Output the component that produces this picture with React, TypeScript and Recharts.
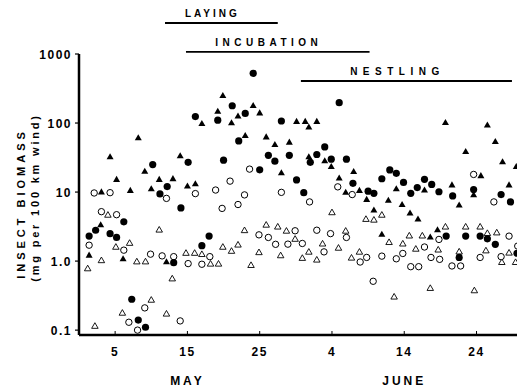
import { ScatterChart, Scatter, XAxis, YAxis, ReferenceLine } from 'recharts'

// x is the day count from 1 May (day 35 = 4 June)
const xTicks = [5, 15, 25, 35, 45, 55]
const xTickLabels = ['5', '15', '25', '4', '14', '24']
const monthTicks = [15, 45]
const monthNames = ['MAY', 'JUNE']
const yTicks = [0.1, 1, 10, 100, 1000]
const yTickLabels = ['0.1', '1.0', '10', '100', '1000']

const filledCircleDays = [1.4, 2.3, 4.3, 5.2, 6.2, 7.3, 8.2, 9.2, 10.2, 11.2, 12.2, 13.1, 14.1, 15.1, 16.1, 17.0, 18.0, 19.2, 20.0, 21.2, 22.1, 23.0, 24.1, 25.0, 26.2, 27.1, 28.0, 29.1, 30.1, 31.1, 32.0, 32.9, 34.0, 34.9, 36.0, 37.0, 37.9, 40.0, 40.8, 41.9, 43.0, 43.9, 44.9, 45.9, 46.8, 47.8, 48.8, 49.8, 50.8, 51.7, 52.6, 53.5, 54.6, 55.5, 56.5, 57.6, 58.4, 59.7, 60.6]
const filledCircleValues = [2.3, 2.8, 2.5, 2.2, 3.7, 0.28, 0.14, 0.11, 25, 9.4, 12, 0.95, 5.9, 27, 124, 1.67, 2.3, 110, 29, 178, 55, 138, 525, 21, 34, 28, 107, 34, 15, 9.8, 27, 35, 45, 30, 197, 30, 13.4, 10.3, 9.6, 15.6, 20.9, 18.7, 13.8, 9.6, 11.6, 15.3, 12.9, 10.1, 2.3, 8.8, 1.13, 2.3, 10.9, 2.3, 2.1, 1.75, 9.2, 7.2, 1.3]

const filledTriangleDays = [1.4, 3.0, 3.1, 4.3, 5.2, 6.1, 7.1, 8.2, 9.1, 10.0, 11.1, 12.1, 13.0, 14.0, 15.0, 16.1, 17.0, 19.2, 19.9, 21.1, 22.0, 23.0, 24.1, 25.0, 25.9, 27.1, 28.0, 29.1, 30.1, 31.3, 31.8, 31.8, 32.9, 34.0, 34.9, 36.0, 36.9, 38.0, 38.8, 39.8, 40.8, 41.9, 42.8, 43.9, 44.7, 45.8, 46.9, 47.8, 48.6, 49.6, 50.7, 51.6, 52.6, 53.5, 54.6, 55.6, 56.5, 57.6, 58.6, 59.5, 60.5]
const filledTriangleValues = [1.2, 3.3, 9.9, 32, 15, 1.06, 10.4, 60, 19.7, 11, 15, 0.96, 15.4, 33, 12, 13, 97, 146, 246, 99, 124, 65, 176, 138, 62, 48, 18.7, 52, 104, 104, 86, 32, 104, 28, 23, 15.7, 9.8, 19.5, 10.4, 7.7, 5.4, 2.4, 7.5, 11, 6.5, 4.9, 4.0, 10.5, 2.2, 2.8, 100, 12.5, 6.4, 38, 9, 17, 92, 53, 27, 12.5, 23]

const openCircleDays = [1.4, 2.1, 3.1, 4.3, 5.2, 6.2, 6.9, 8.1, 9.1, 9.9, 11.5, 12.1, 13.1, 14.0, 15.1, 16.1, 17.0, 18.1, 18.9, 19.8, 20.9, 22.0, 22.9, 23.6, 24.9, 26.2, 27.2, 28.0, 28.9, 29.9, 30.9, 31.9, 32.9, 33.9, 34.8, 35.8, 37.0, 37.8, 38.9, 39.8, 40.7, 41.9, 43.9, 44.8, 45.9, 47.0, 47.8, 48.7, 49.8, 49.9, 51.6, 52.8, 54.6, 55.5, 57.4, 58.4, 59.5, 60.7]
const openCircleValues = [1.7, 9.7, 5.2, 9.8, 4.7, 1.44, 0.13, 0.1, 0.21, 1.26, 1.19, 8.1, 1.16, 0.136, 0.92, 9.5, 0.9, 1.16, 10.7, 5.8, 14.4, 6.6, 9.1, 21.5, 2.4, 2.2, 1.75, 9.9, 1.76, 2.75, 1.8, 7.2, 2.8, 1.36, 2.5, 11.9, 2.2, 9.2, 0.97, 1.13, 0.51, 1.18, 1.08, 1.29, 0.83, 0.83, 1.6, 1.13, 2.06, 1.06, 0.85, 0.85, 18, 1.13, 7.2, 1.16, 2.3, 1.65]

const openTriangleDays = [1.2, 2.2, 3.1, 4.0, 5.1, 6.0, 7.0, 8.0, 9.2, 10.0, 11.1, 12.1, 12.9, 14.8, 16.0, 17.0, 18.2, 19.3, 19.9, 21.1, 22.0, 22.9, 23.8, 24.9, 25.9, 27.5, 27.9, 28.7, 29.9, 30.9, 31.8, 32.9, 33.7, 35.0, 35.9, 36.9, 37.7, 38.8, 39.7, 40.8, 41.9, 42.9, 43.6, 44.8, 45.7, 46.6, 47.5, 48.6, 49.7, 50.7, 52.6, 53.5, 54.7, 55.5, 56.3, 56.5, 57.8, 58.5, 59.5, 60.4]
const openTriangleValues = [0.77, 0.113, 1.01, 4.6, 1.58, 0.175, 1.8, 0.97, 0.97, 0.27, 2.8, 0.17, 0.55, 1.29, 1.29, 1.24, 0.9, 0.9, 1.58, 1.38, 1.7, 2.75, 0.86, 1.32, 3.3, 3.1, 1.19, 2.7, 2.06, 1.09, 1.34, 1.03, 1.76, 5.0, 1.53, 2.7, 1.1, 1.34, 4.0, 3.9, 4.6, 1.85, 0.3, 1.76, 2.3, 1.48, 2.3, 0.4, 1.44, 3.1, 1.35, 3.1, 0.37, 3.1, 1.4, 2.5, 2.55, 0.95, 1.3, 0.95]

// breeding phases drawn above the points (start day, end day, level on the y scale)
const phaseNames = ['LAYING', 'INCUBATION', 'NESTLING']
const phaseStart = [11.9, 14.8, 30.7]
const phaseEnd = [27.5, 40.2, 59.9]
const phaseLevel = [2810, 1070, 406]

const FONT = '"Liberation Sans", Arial, sans-serif'

const toPoints = (days: number[], values: number[]) => days.map((day, i) => ({ day, v: values[i] }))

const triPath = (cx: number, cy: number, s: number) => {
    const h = s * 0.866
    return `M${cx},${cy - (h * 2) / 3}L${cx + s / 2},${cy + h / 3}L${cx - s / 2},${cy + h / 3}Z`
}

const FilledCircle = (p: any) => <circle cx={p.cx} cy={p.cy} r={3.6} fill="#000" />
const OpenCircle = (p: any) => <circle cx={p.cx} cy={p.cy} r={3.2} fill="#fff" stroke="#000" strokeWidth={1} />
const FilledTriangle = (p: any) => <path d={triPath(p.cx, p.cy, 7)} fill="#000" />
const OpenTriangle = (p: any) => <path d={triPath(p.cx, p.cy, 6.5)} fill="#fff" stroke="#000" strokeWidth={0.9} />

const XTick = (props: any) => {
    const { x, y, payload } = props
    const i = xTicks.indexOf(payload.value)
    const m = monthTicks.indexOf(payload.value)
    return (
        <g>
            <line x1={x} x2={x} y1={y} y2={y - 4} stroke="#000" strokeWidth={1} />
            <text x={x} y={y + 21} textAnchor="middle" fontSize={12} fontWeight={700} letterSpacing={1.5} fontFamily={FONT} fill="#000">
                {xTickLabels[i]}
            </text>
            {m >= 0 && (
                <text x={x} y={y + 50} textAnchor="middle" fontSize={12} fontWeight={700} letterSpacing={3} fontFamily={FONT} fill="#000">
                    {monthNames[m]}
                </text>
            )}
        </g>
    )
}

const YTick = (props: any) => {
    const { x, y, payload } = props
    const i = yTicks.indexOf(payload.value)
    return (
        <text x={x} y={y + 4.5} textAnchor="end" fontSize={12} fontWeight={700} letterSpacing={1.5} fontFamily={FONT} fill="#000">
            {yTickLabels[i]}
        </text>
    )
}

const YLabel = (props: any) => {
    const vb = props.viewBox
    const cy = vb.y + vb.height / 2
    return (
        <g fontFamily={FONT} fontWeight={700} fill="#000">
            <text transform={`translate(${vb.x + 25},${cy + 9}) rotate(-90)`} textAnchor="middle" fontSize={11} letterSpacing={4}>
                INSECT BIOMASS
            </text>
            <text transform={`translate(${vb.x + 39},${cy + 3}) rotate(-90)`} textAnchor="middle" fontSize={11} letterSpacing={2.8}>
                (mg per 100 km wind)
            </text>
        </g>
    )
}

const phaseSpacing = [3, 4.5, 5.5]

const phaseLabel = (i: number) => (props: any) => {
    const vb = props.viewBox
    return (
        <text x={vb.x + vb.width / 2 - 9} y={vb.y - 6} textAnchor="middle" fontSize={10} fontWeight={700} letterSpacing={phaseSpacing[i]} fontFamily={FONT} fill="#000">
            {phaseNames[i]}
        </text>
    )
}

export default function App() {
    return (
        <div style={{ position: 'absolute', left: 0, top: 0, width: 530, height: 391, background: '#fff' }}>
            <ScatterChart width={530} height={391} margin={{ top: 54, right: 13, bottom: 0, left: 0 }}>
                <XAxis
                    type="number"
                    dataKey="day"
                    domain={[0, 60.6]}
                    allowDataOverflow
                    ticks={xTicks}
                    tick={<XTick />}
                    tickLine={false}
                    tickSize={0}
                    tickMargin={0}
                    height={56}
                    axisLine={{ stroke: '#000', strokeWidth: 2.5 }}
                />
                <YAxis
                    type="number"
                    dataKey="v"
                    scale="log"
                    domain={[0.085, 1000]}
                    allowDataOverflow
                    ticks={yTicks}
                    tick={<YTick />}
                    tickLine={{ stroke: '#000', strokeWidth: 1.2 }}
                    tickSize={4}
                    tickMargin={3}
                    width={79}
                    axisLine={{ stroke: '#000', strokeWidth: 2.5 }}
                    label={(p: any) => <YLabel {...p} />}
                />
                {phaseNames.map((name, i) => (
                    <ReferenceLine
                        key={name}
                        segment={[{ x: phaseStart[i], y: phaseLevel[i] }, { x: phaseEnd[i], y: phaseLevel[i] }]}
                        stroke="#000"
                        strokeWidth={1.8}
                        ifOverflow="visible"
                        label={phaseLabel(i)}
                    />
                ))}
                <Scatter data={toPoints(openTriangleDays, openTriangleValues)} shape={OpenTriangle} isAnimationActive={false} />
                <Scatter data={toPoints(openCircleDays, openCircleValues)} shape={OpenCircle} isAnimationActive={false} />
                <Scatter data={toPoints(filledTriangleDays, filledTriangleValues)} shape={FilledTriangle} isAnimationActive={false} />
                <Scatter data={toPoints(filledCircleDays, filledCircleValues)} shape={FilledCircle} isAnimationActive={false} />
            </ScatterChart>
        </div>
    )
}
